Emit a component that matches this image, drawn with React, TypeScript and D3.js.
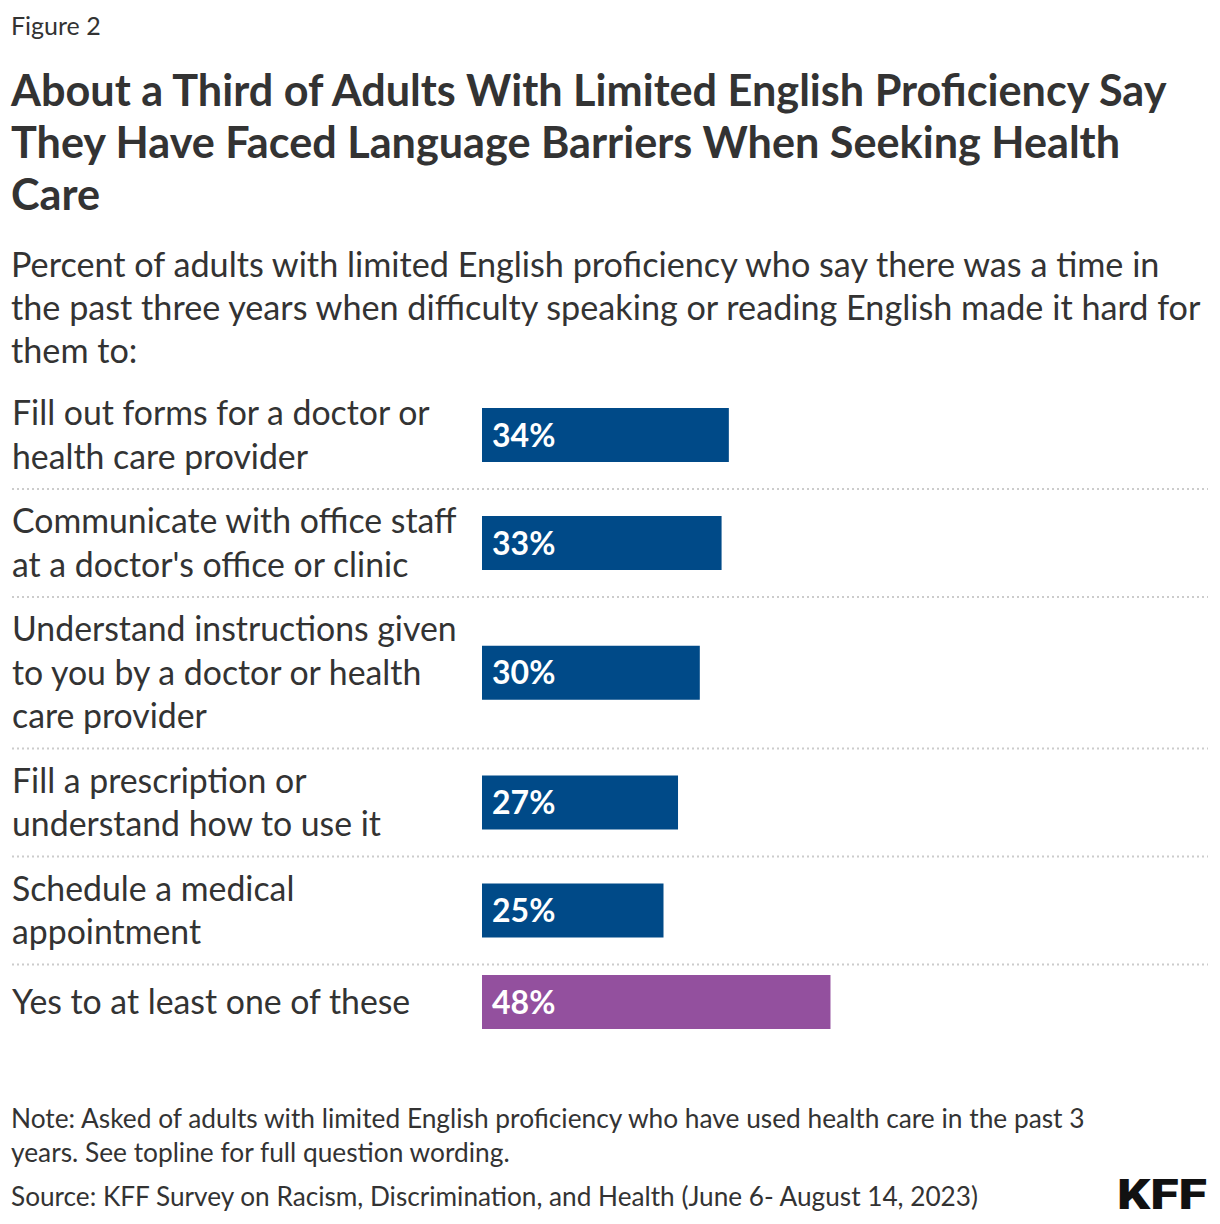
import React from "react";
import * as d3 from "d3";

const categories: string[][] = [
  ["Fill out forms for a doctor or", "health care provider"],
  ["Communicate with office staff", "at a doctor's office or clinic"],
  ["Understand instructions given", "to you by a doctor or health", "care provider"],
  ["Fill a prescription or", "understand how to use it"],
  ["Schedule a medical", "appointment"],
  ["Yes to at least one of these"],
];
const values: number[] = [34, 33, 30, 27, 25, 48];
const highlight: boolean[] = [false, false, false, false, false, true];

const titleLines = [
  "About a Third of Adults With Limited English Proficiency Say",
  "They Have Faced Language Barriers When Seeking Health",
  "Care",
];
const subtitleLines = [
  "Percent of adults with limited English proficiency who say there was a time in",
  "the past three years when difficulty speaking or reading English made it hard for",
  "them to:",
];
const noteLines = [
  "Note: Asked of adults with limited English proficiency who have used health care in the past 3",
  "years. See topline for full question wording.",
];
const sourceLine = "Source: KFF Survey on Racism, Discrimination, and Health (June 6- August 14, 2023)";

const FONT = "'Source Sans Pro', Lato, 'Noto Sans', sans-serif";
const TEXT = "#333333";
const BLUE = "#004a88";
const PURPLE = "#93509e";

export default function App() {
  const W = 1220;
  const H = 1224;
  const x = d3.scaleLinear().domain([0, 100]).range([482, 1208]);
  const lineH = 43.5;
  const barH = 54;
  const pad = 21;
  const top0 = 381;

  const rows: { top: number; h: number; center: number }[] = [];
  let cur = top0;
  categories.forEach((c) => {
    const h = Math.max(c.length * lineH, barH) + pad;
    rows.push({ top: cur, h, center: cur + h / 2 });
    cur += h;
  });

  return (
    <svg width={W} height={H} style={{ position: "absolute", left: 0, top: 0, background: "#fff" }} fontFamily={FONT}>
      <rect x={0} y={0} width={W} height={H} fill="#fff" />
      <text x={11} y={35} fontSize={25} fill={TEXT}>Figure 2</text>
      {titleLines.map((t, i) => (
        <text key={i} x={11} y={106 + i * 52} fontSize={43.2} fontWeight={700} fill={TEXT}>{t}</text>
      ))}
      {subtitleLines.map((t, i) => (
        <text key={i} x={11} y={277 + i * 43} fontSize={34.2} fill={TEXT}>{t}</text>
      ))}
      {rows.map((r, i) => {
        const c = categories[i];
        const startY = r.center - ((c.length - 1) * lineH) / 2;
        return (
          <g key={i}>
            {c.map((l, j) => (
              <text key={j} x={12} y={startY + j * lineH} dy="0.36em" fontSize={33.8} fill={TEXT}>{l}</text>
            ))}
            <rect x={x(0)} y={r.center - barH / 2} width={x(values[i]) - x(0)} height={barH}
              fill={highlight[i] ? PURPLE : BLUE} />
            <text x={x(0) + 10} y={r.center} dy="0.36em" fontSize={32} fontWeight={700} fill="#fff">{values[i]}%</text>
            {i < rows.length - 1 && (
              <line x1={12} x2={1208} y1={r.top + r.h} y2={r.top + r.h} stroke="#cccccc" strokeWidth={2} strokeDasharray="2,3" />
            )}
          </g>
        );
      })}
      {noteLines.map((t, i) => (
        <text key={i} x={11} y={1128 + i * 34} fontSize={26.3} fill={TEXT}>{t}</text>
      ))}
      <text x={11} y={1206} fontSize={26.2} fill={TEXT}>{sourceLine}</text>
      <text x={1117} y={1209} fontSize={43} fontWeight={900} fill="#111" textLength={90} lengthAdjust="spacingAndGlyphs" fontFamily="Roboto, sans-serif">KFF</text>
    </svg>
  );
}
